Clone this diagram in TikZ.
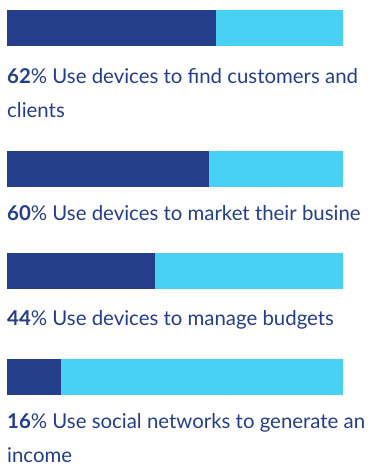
\documentclass[tikz,border=0pt]{standalone}
\usepackage{fontspec}
\setmainfont{Lato}
\usetikzlibrary{positioning}
\definecolor{navy}{RGB}{37,62,140}
\definecolor{sky}{RGB}{72,209,243}

\begin{document}
\begin{tikzpicture}[x=1pt,y=-1pt,
		track/.style={fill=sky,minimum width=336pt,minimum height=36pt,inner sep=0pt,outer sep=0pt,anchor=north west},
		share/.style={fill=navy,minimum height=36pt,inner sep=0pt,outer sep=0pt,anchor=north west},
		caption/.style={text=navy,anchor=base west,inner sep=0pt,align=left,font=\fontsize{20.4}{34}\selectfont}]
			\useasboundingbox (0,0) rectangle (371,466);
			\clip (0,0) rectangle (371,466);

			% base of a two-line caption is the baseline of its last line
			\node[track] (Track1) at (7,10)  {};
			\node[share,minimum width=209pt] (Share1) at (Track1.north west) {};
			\node[caption] (Label1) at (7,117.3) {\textbf{62}\% Use devices to find customers and\\clients};

			\node[track] (Track2) at (7,151) {};
			\node[share,minimum width=202pt] (Share2) at (Track2.north west) {};
			\node[caption] (Label2) at (7,220.5) {\textbf{60}\% Use devices to market their busine};

			\node[track] (Track3) at (7,253) {};
			\node[share,minimum width=148pt] (Share3) at (Track3.north west) {};
			\node[caption] (Label3) at (7,325) {\textbf{44}\% Use devices to manage budgets};

			\node[track] (Track4) at (7,359) {};
			\node[share,minimum width=54pt] (Share4) at (Track4.north west) {};
			\node[caption] (Label4) at (7,462.7) {\textbf{16}\% Use social networks to generate an\\income};
		\end{tikzpicture}
\end{document}
